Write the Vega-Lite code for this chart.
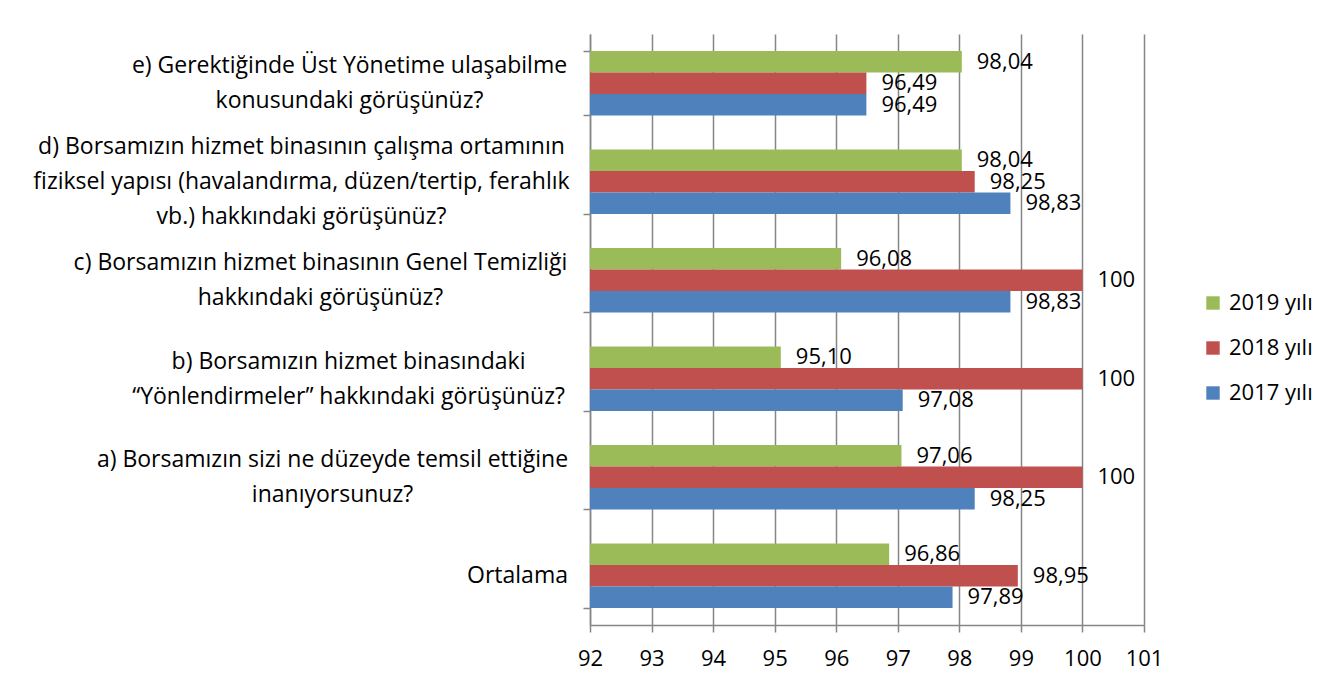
{
  "$schema": "https://vega.github.io/schema/vega-lite/v6.json",
  "width": 554,
  "height": 591,
  "autosize": {"type": "none"},
  "padding": {"left": 590, "top": 34, "right": 189, "bottom": 61},
  "background": "white",
  "config": {
    "view": {"stroke": null},
    "font": "Open Sans",
    "axis": {"labelFont": "Open Sans", "labelColor": "#000000"},
    "legend": {"labelFont": "Open Sans", "labelColor": "#000000"}
  },
  "data": {
    "values": [
      {"cat": "e) Gerektiğinde Üst Yönetime ulaşabilme|konusundaki görüşünüz?", "year": "2019 yılı", "value": 98.04, "label": "98,04"},
      {"cat": "e) Gerektiğinde Üst Yönetime ulaşabilme|konusundaki görüşünüz?", "year": "2018 yılı", "value": 96.49, "label": "96,49"},
      {"cat": "e) Gerektiğinde Üst Yönetime ulaşabilme|konusundaki görüşünüz?", "year": "2017 yılı", "value": 96.49, "label": "96,49"},
      {"cat": "d) Borsamızın hizmet binasının çalışma ortamının|fiziksel yapısı (havalandırma, düzen/tertip, ferahlık|vb.) hakkındaki görüşünüz?", "year": "2019 yılı", "value": 98.04, "label": "98,04"},
      {"cat": "d) Borsamızın hizmet binasının çalışma ortamının|fiziksel yapısı (havalandırma, düzen/tertip, ferahlık|vb.) hakkındaki görüşünüz?", "year": "2018 yılı", "value": 98.25, "label": "98,25"},
      {"cat": "d) Borsamızın hizmet binasının çalışma ortamının|fiziksel yapısı (havalandırma, düzen/tertip, ferahlık|vb.) hakkındaki görüşünüz?", "year": "2017 yılı", "value": 98.83, "label": "98,83"},
      {"cat": "c) Borsamızın hizmet binasının Genel Temizliği|hakkındaki görüşünüz?", "year": "2019 yılı", "value": 96.08, "label": "96,08"},
      {"cat": "c) Borsamızın hizmet binasının Genel Temizliği|hakkındaki görüşünüz?", "year": "2018 yılı", "value": 100, "label": "100"},
      {"cat": "c) Borsamızın hizmet binasının Genel Temizliği|hakkındaki görüşünüz?", "year": "2017 yılı", "value": 98.83, "label": "98,83"},
      {"cat": "b) Borsamızın hizmet binasındaki|“Yönlendirmeler” hakkındaki görüşünüz?", "year": "2019 yılı", "value": 95.10, "label": "95,10"},
      {"cat": "b) Borsamızın hizmet binasındaki|“Yönlendirmeler” hakkındaki görüşünüz?", "year": "2018 yılı", "value": 100, "label": "100"},
      {"cat": "b) Borsamızın hizmet binasındaki|“Yönlendirmeler” hakkındaki görüşünüz?", "year": "2017 yılı", "value": 97.08, "label": "97,08"},
      {"cat": "a) Borsamızın sizi ne düzeyde temsil ettiğine|inanıyorsunuz?", "year": "2019 yılı", "value": 97.06, "label": "97,06"},
      {"cat": "a) Borsamızın sizi ne düzeyde temsil ettiğine|inanıyorsunuz?", "year": "2018 yılı", "value": 100, "label": "100"},
      {"cat": "a) Borsamızın sizi ne düzeyde temsil ettiğine|inanıyorsunuz?", "year": "2017 yılı", "value": 98.25, "label": "98,25"},
      {"cat": "Ortalama", "year": "2019 yılı", "value": 96.86, "label": "96,86"},
      {"cat": "Ortalama", "year": "2018 yılı", "value": 98.95, "label": "98,95"},
      {"cat": "Ortalama", "year": "2017 yılı", "value": 97.89, "label": "97,89"}
    ]
  },
  "encoding": {
    "y": {
      "field": "cat",
      "type": "nominal",
      "sort": null,
      "title": null,
      "scale": {"paddingInner": 0.347, "paddingOuter": 0.1735},
      "axis": {
        "labelExpr": "split(datum.label, '|')",
        "labelFontSize": 23,
        "labelLineHeight": 35,
        "labelLimit": 700,
        "labelAlign": "center",
        "labelBaseline": "middle",
        "labelPadding": {
          "condition": [
            {"test": "substring(datum.value, 0, 2) == 'e)'", "value": 234},
            {"test": "substring(datum.value, 0, 2) == 'd)'", "value": 282},
            {"test": "substring(datum.value, 0, 2) == 'c)'", "value": 263},
            {"test": "substring(datum.value, 0, 2) == 'b)'", "value": 235},
            {"test": "substring(datum.value, 0, 2) == 'a)'", "value": 251}
          ],
          "value": 66
        },
        "labelOffset": {
          "condition": [
            {"test": "length(split(datum.value, '|')) == 3", "value": -35},
            {"test": "length(split(datum.value, '|')) == 2", "value": -17.5}
          ],
          "value": 0
        },
        "tickBand": "extent",
        "tickSize": 7,
        "tickColor": "#868686",
        "tickWidth": 1.5,
        "domainColor": "#868686",
        "domainWidth": 1.5,
        "grid": false
      }
    },
    "yOffset": {
      "field": "year",
      "type": "nominal",
      "sort": ["2019 yılı", "2018 yılı", "2017 yılı"],
      "scale": {"paddingInner": 0, "paddingOuter": 0}
    }
  },
  "layer": [
    {
      "mark": {"type": "bar", "cornerRadius": 0},
      "encoding": {
        "x": {
          "field": "value",
          "type": "quantitative",
          "title": null,
          "scale": {"domain": [92, 101], "nice": false, "zero": false},
          "axis": {
            "values": [92, 93, 94, 95, 96, 97, 98, 99, 100, 101],
            "format": "d",
            "labelFontSize": 22,
            "labelPadding": 16,
            "tickSize": 7,
            "tickColor": "#868686",
            "tickWidth": 1.5,
            "domainColor": "#868686",
            "domainWidth": 1.5,
            "grid": true,
            "gridColor": "#868686",
            "gridWidth": 1.5,
            "labelFlush": false
          }
        },
        "x2": {"datum": 92},
        "color": {
          "field": "year",
          "type": "nominal",
          "sort": ["2019 yılı", "2018 yılı", "2017 yılı"],
          "scale": {"domain": ["2019 yılı", "2018 yılı", "2017 yılı"], "range": ["#9BBB59", "#C0504D", "#4F81BD"]},
          "legend": {
            "title": null,
            "orient": "none",
            "legendX": 612,
            "legendY": 258,
            "symbolType": "square",
            "symbolSize": 180,
            "symbolStrokeWidth": 0,
            "labelFontSize": 22,
            "labelOffset": 5,
            "rowPadding": 23
          }
        }
      }
    },
    {
      "mark": {"type": "text", "align": "left", "baseline": "middle", "dx": 15, "fontSize": 22, "font": "Open Sans", "color": "#000000"},
      "encoding": {
        "x": {"field": "value", "type": "quantitative"},
        "text": {"field": "label"}
      }
    }
  ]
}
